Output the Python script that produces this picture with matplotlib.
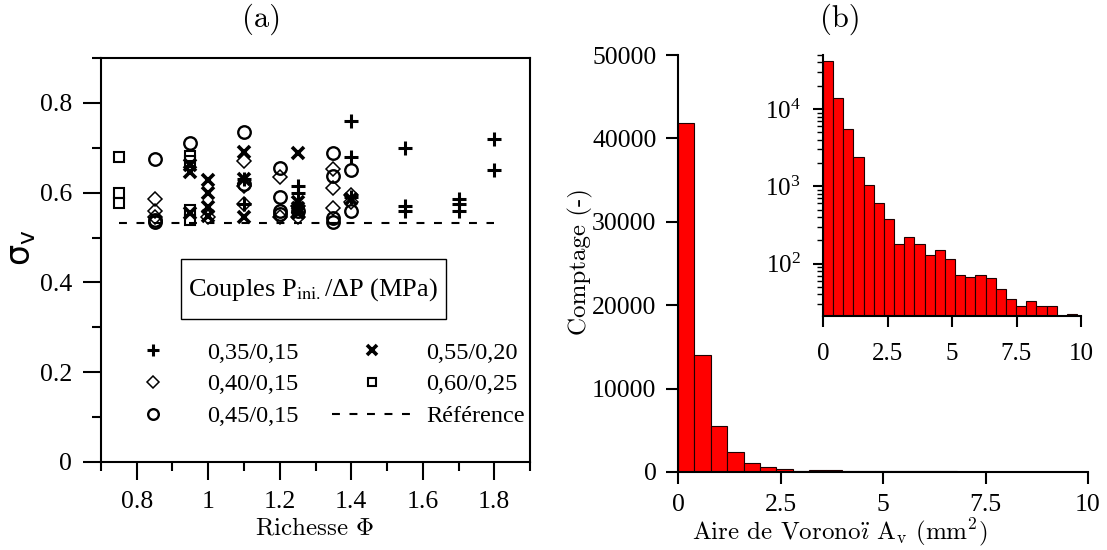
import numpy as np
import matplotlib
matplotlib.use("Agg")
import matplotlib.pyplot as plt
from matplotlib.lines import Line2D
from matplotlib.patches import Rectangle
from matplotlib.ticker import FixedLocator, LogLocator, NullFormatter, LogFormatterMathtext

plt.rcParams['font.family'] = ['Liberation Serif', 'DejaVu Serif']
plt.rcParams['mathtext.fontset'] = 'stix'

# ---------------- data: panel (a) ----------------
plus_x = [1.1, 1.1, 1.25, 1.25, 1.4, 1.4, 1.4, 1.55, 1.55, 1.55, 1.7, 1.7, 1.7, 1.8, 1.8]
plus_y = [0.63, 0.575, 0.615, 0.60, 0.76, 0.68, 0.59, 0.70, 0.57, 0.56, 0.585, 0.575, 0.56, 0.72, 0.65]

diam_x = [0.85, 0.85, 0.85, 1.0, 1.1, 1.1, 1.1, 1.2, 1.2, 1.25, 1.25, 1.35, 1.35, 1.35, 1.4, 1.4]
diam_y = [0.585, 0.56, 0.545, 0.545, 0.67, 0.615, 0.575, 0.635, 0.545, 0.57, 0.545, 0.653, 0.61, 0.565, 0.595, 0.58]

circ_x = [0.85, 0.85, 0.85, 0.95, 1.1, 1.1, 1.2, 1.2, 1.2, 1.2, 1.25, 1.35, 1.35, 1.35, 1.35, 1.4, 1.4]
circ_y = [0.674, 0.54, 0.535, 0.711, 0.736, 0.62, 0.655, 0.59, 0.56, 0.553, 0.56, 0.689, 0.637, 0.543, 0.535, 0.65, 0.56]

cross_x = [0.95, 0.95, 0.95, 1.0, 1.0, 1.0, 1.0, 1.1, 1.1, 1.1, 1.25, 1.25, 1.25, 1.25, 1.4]
cross_y = [0.662, 0.647, 0.555, 0.628, 0.599, 0.569, 0.548, 0.69, 0.63, 0.546, 0.688, 0.58, 0.565, 0.555, 0.585]

sq_x = [0.75, 0.75, 0.75, 0.95, 0.95, 0.95, 0.95]
sq_y = [0.68, 0.60, 0.578, 0.682, 0.67, 0.561, 0.538]

ref_x = [0.75, 1.8]
ref_y = [0.532, 0.532]

series_labels = ['0,35/0,15', '0,40/0,15', '0,45/0,15', '0,55/0,20', '0,60/0,25', 'Référence']

xticks_a = [0.8, 1.0, 1.2, 1.4, 1.6, 1.8]
xticklabels_a = ['0.8', '1', '1.2', '1.4', '1.6', '1.8']
yticks_a = [0, 0.2, 0.4, 0.6, 0.8]
yticklabels_a = ['0', '0.2', '0.4', '0.6', '0.8']

# ---------------- data: panel (b) ----------------
bin_width_main = 0.4
bin_width_inset = 0.394
counts = [41800, 14000, 5470, 2380, 1025, 600, 376, 179, 221, 181, 131, 152, 114,
          71, 67, 71, 65, 47.5, 35, 28.4, 33, 28.2, 27.9, 0, 22]

xticks_b = [0, 2.5, 5, 7.5, 10]
xticklabels_b = ['0', '2.5', '5', '7.5', '10']
yticks_b = [0, 10000, 20000, 30000, 40000, 50000]
yticklabels_b = ['0', '10000', '20000', '30000', '40000', '50000']

# ---------------- figure ----------------
W, H = 1107, 550
fig = plt.figure(figsize=(W / 100, H / 100), dpi=100)

def ax_rect(x0, x1, ytop, ybot):
    return [x0 / W, 1 - ybot / H, (x1 - x0) / W, (ybot - ytop) / H]

# ---- panel (a)
ax = fig.add_axes(ax_rect(101, 530, 58, 462))
ax.set_xlim(0.7, 1.9)
ax.set_ylim(0, 0.9)
for s in ax.spines.values():
    s.set_linewidth(1.5)

ax.plot(plus_x, plus_y, ls='none', marker='+', ms=9.5, mew=2.2, color='k')
ax.plot(diam_x, diam_y, ls='none', marker='D', ms=6.8, mew=1.1, mfc='none', mec='k')
ax.plot(circ_x, circ_y, ls='none', marker='o', ms=9.0, mew=1.7, mfc='none', mec='k')
ax.plot(cross_x, cross_y, ls='none', marker='x', ms=8.5, mew=2.6, color='k')
ax.plot(sq_x, sq_y, ls='none', marker='s', ms=7.5, mew=1.5, mfc='none', mec='k')
ax.plot(ref_x, ref_y, color='k', lw=1.5, ls=(0, (3.8, 4.6)))

ax.xaxis.set_major_locator(FixedLocator(xticks_a))
ax.set_xticklabels(xticklabels_a)
ax.xaxis.set_minor_locator(FixedLocator([0.7, 0.9, 1.1, 1.3, 1.5, 1.7, 1.9]))
ax.yaxis.set_major_locator(FixedLocator(yticks_a))
ax.set_yticklabels(yticklabels_a)
ax.yaxis.set_minor_locator(FixedLocator([0.1, 0.3, 0.5, 0.7, 0.9]))
ax.tick_params(which='major', direction='out', length=13, width=1.5, labelsize=18.5, pad=8)
ax.tick_params(which='minor', direction='out', length=6.5, width=1.5)
ax.tick_params(axis='x', which='both', top=False)
ax.tick_params(axis='y', which='both', right=False)

# legend title box
ax.add_patch(Rectangle((0.1865, 0.354), 0.6175, 0.1485, transform=ax.transAxes,
                       fill=False, ec='k', lw=1.0))
ax.text(0.495, 0.428, r'Couples P$_{\mathrm{ini.}}$/ΔP (MPa)', transform=ax.transAxes,
        ha='center', va='center', fontsize=19, math_fontfamily='stix')

handles = [
    Line2D([], [], ls='none', marker='+', ms=9.5, mew=2.2, color='k'),
    Line2D([], [], ls='none', marker='D', ms=6.8, mew=1.1, mfc='none', mec='k'),
    Line2D([], [], ls='none', marker='o', ms=9.0, mew=1.7, mfc='none', mec='k'),
    Line2D([], [], ls='none', marker='x', ms=8.5, mew=2.6, color='k'),
    Line2D([], [], ls='none', marker='s', ms=7.5, mew=1.5, mfc='none', mec='k'),
    Line2D([], [], color='k', lw=1.5, ls=(0, (3.8, 4.6))),
]
ax.legend(handles, series_labels, ncol=2, frameon=False, loc='upper left',
          bbox_to_anchor=(0.027, 0.298), borderaxespad=0, borderpad=0,
          fontsize=17.5, handlelength=3.3, handletextpad=0.6, columnspacing=1.35,
          labelspacing=0.4, markerscale=0.85)

fig.text(22 / W, 1 - 248 / H, 'σ$_\\mathrm{v}$', fontsize=24, family='DejaVu Sans',
         math_fontfamily='dejavusans', rotation=90, ha='center', va='center')
fig.text(315 / W, 1 - 528 / H, r'Richesse $\Phi$', family='cmr10', math_fontfamily='cm',
         fontsize=18, ha='center', va='center')
fig.text(262 / W, 1 - 19 / H, '(a)', family='cmr10', fontsize=22, ha='center', va='center')

# ---- panel (b) main
bx = fig.add_axes(ax_rect(678, 1088, 55, 472))
edges_main = np.arange(len(counts)) * bin_width_main
bx.bar(edges_main, counts, width=bin_width_main, align='edge', color='#ff0000',
       edgecolor='#200000', linewidth=0.8)
bx.set_xlim(0, 10)
bx.set_ylim(0, 50000)
bx.spines['top'].set_visible(False)
bx.spines['right'].set_visible(False)
bx.spines['left'].set_linewidth(1.5)
bx.spines['bottom'].set_linewidth(1.5)
bx.set_xticks(xticks_b)
bx.set_xticklabels(xticklabels_b)
bx.set_yticks(yticks_b)
bx.set_yticklabels(yticklabels_b)
bx.tick_params(axis='x', direction='out', length=8.5, width=1.5, labelsize=18.5, pad=7.5)
bx.tick_params(axis='y', direction='out', length=8.5, width=1.5, labelsize=18.5, pad=7)
fig.text(580 / W, 1 - 262 / H, 'Comptage (-)', family='cmr10', fontsize=18,
         rotation=90, ha='center', va='center')
fig.text(840 / W, 1 - 532 / H, r'Aire de Vorono$\mathrm{\ddot{\imath}}$ A$_\mathrm{v}$ (mm$^\mathrm{2}$)',
         family='cmr10', math_fontfamily='cm', fontsize=18, ha='center', va='center')
fig.text(840 / W, 1 - 19 / H, '(b)', family='cmr10', fontsize=22, ha='center', va='center')

# ---- panel (b) inset
ix = fig.add_axes(ax_rect(823, 1081, 55, 316))
ix.set_facecolor('none')
edges_inset = np.arange(len(counts)) * bin_width_inset
ix.bar(edges_inset, counts, width=bin_width_inset, align='edge', color='#ff0000',
       edgecolor='#200000', linewidth=0.8)
ix.set_yscale('log')
ix.set_xlim(0, 10)
ix.set_ylim(21, 50000)
ix.spines['top'].set_visible(False)
ix.spines['right'].set_visible(False)
ix.spines['left'].set_linewidth(1.5)
ix.spines['bottom'].set_linewidth(1.5)
ix.set_xticks(xticks_b)
ix.set_xticklabels(xticklabels_b)
ix.yaxis.set_major_locator(FixedLocator([1e2, 1e3, 1e4]))
ix.yaxis.set_major_formatter(LogFormatterMathtext())
ix.yaxis.set_minor_locator(LogLocator(base=10, subs=np.arange(2, 10)))
ix.yaxis.set_minor_formatter(NullFormatter())
ix.tick_params(axis='x', direction='out', length=8, width=1.5, labelsize=18, pad=11.5)
ix.tick_params(axis='y', which='major', direction='out', length=7.5, width=1.5, labelsize=18, pad=8.5)
ix.tick_params(axis='y', which='minor', direction='out', length=4, width=1.0)

fig.savefig('out.png', dpi=100)
